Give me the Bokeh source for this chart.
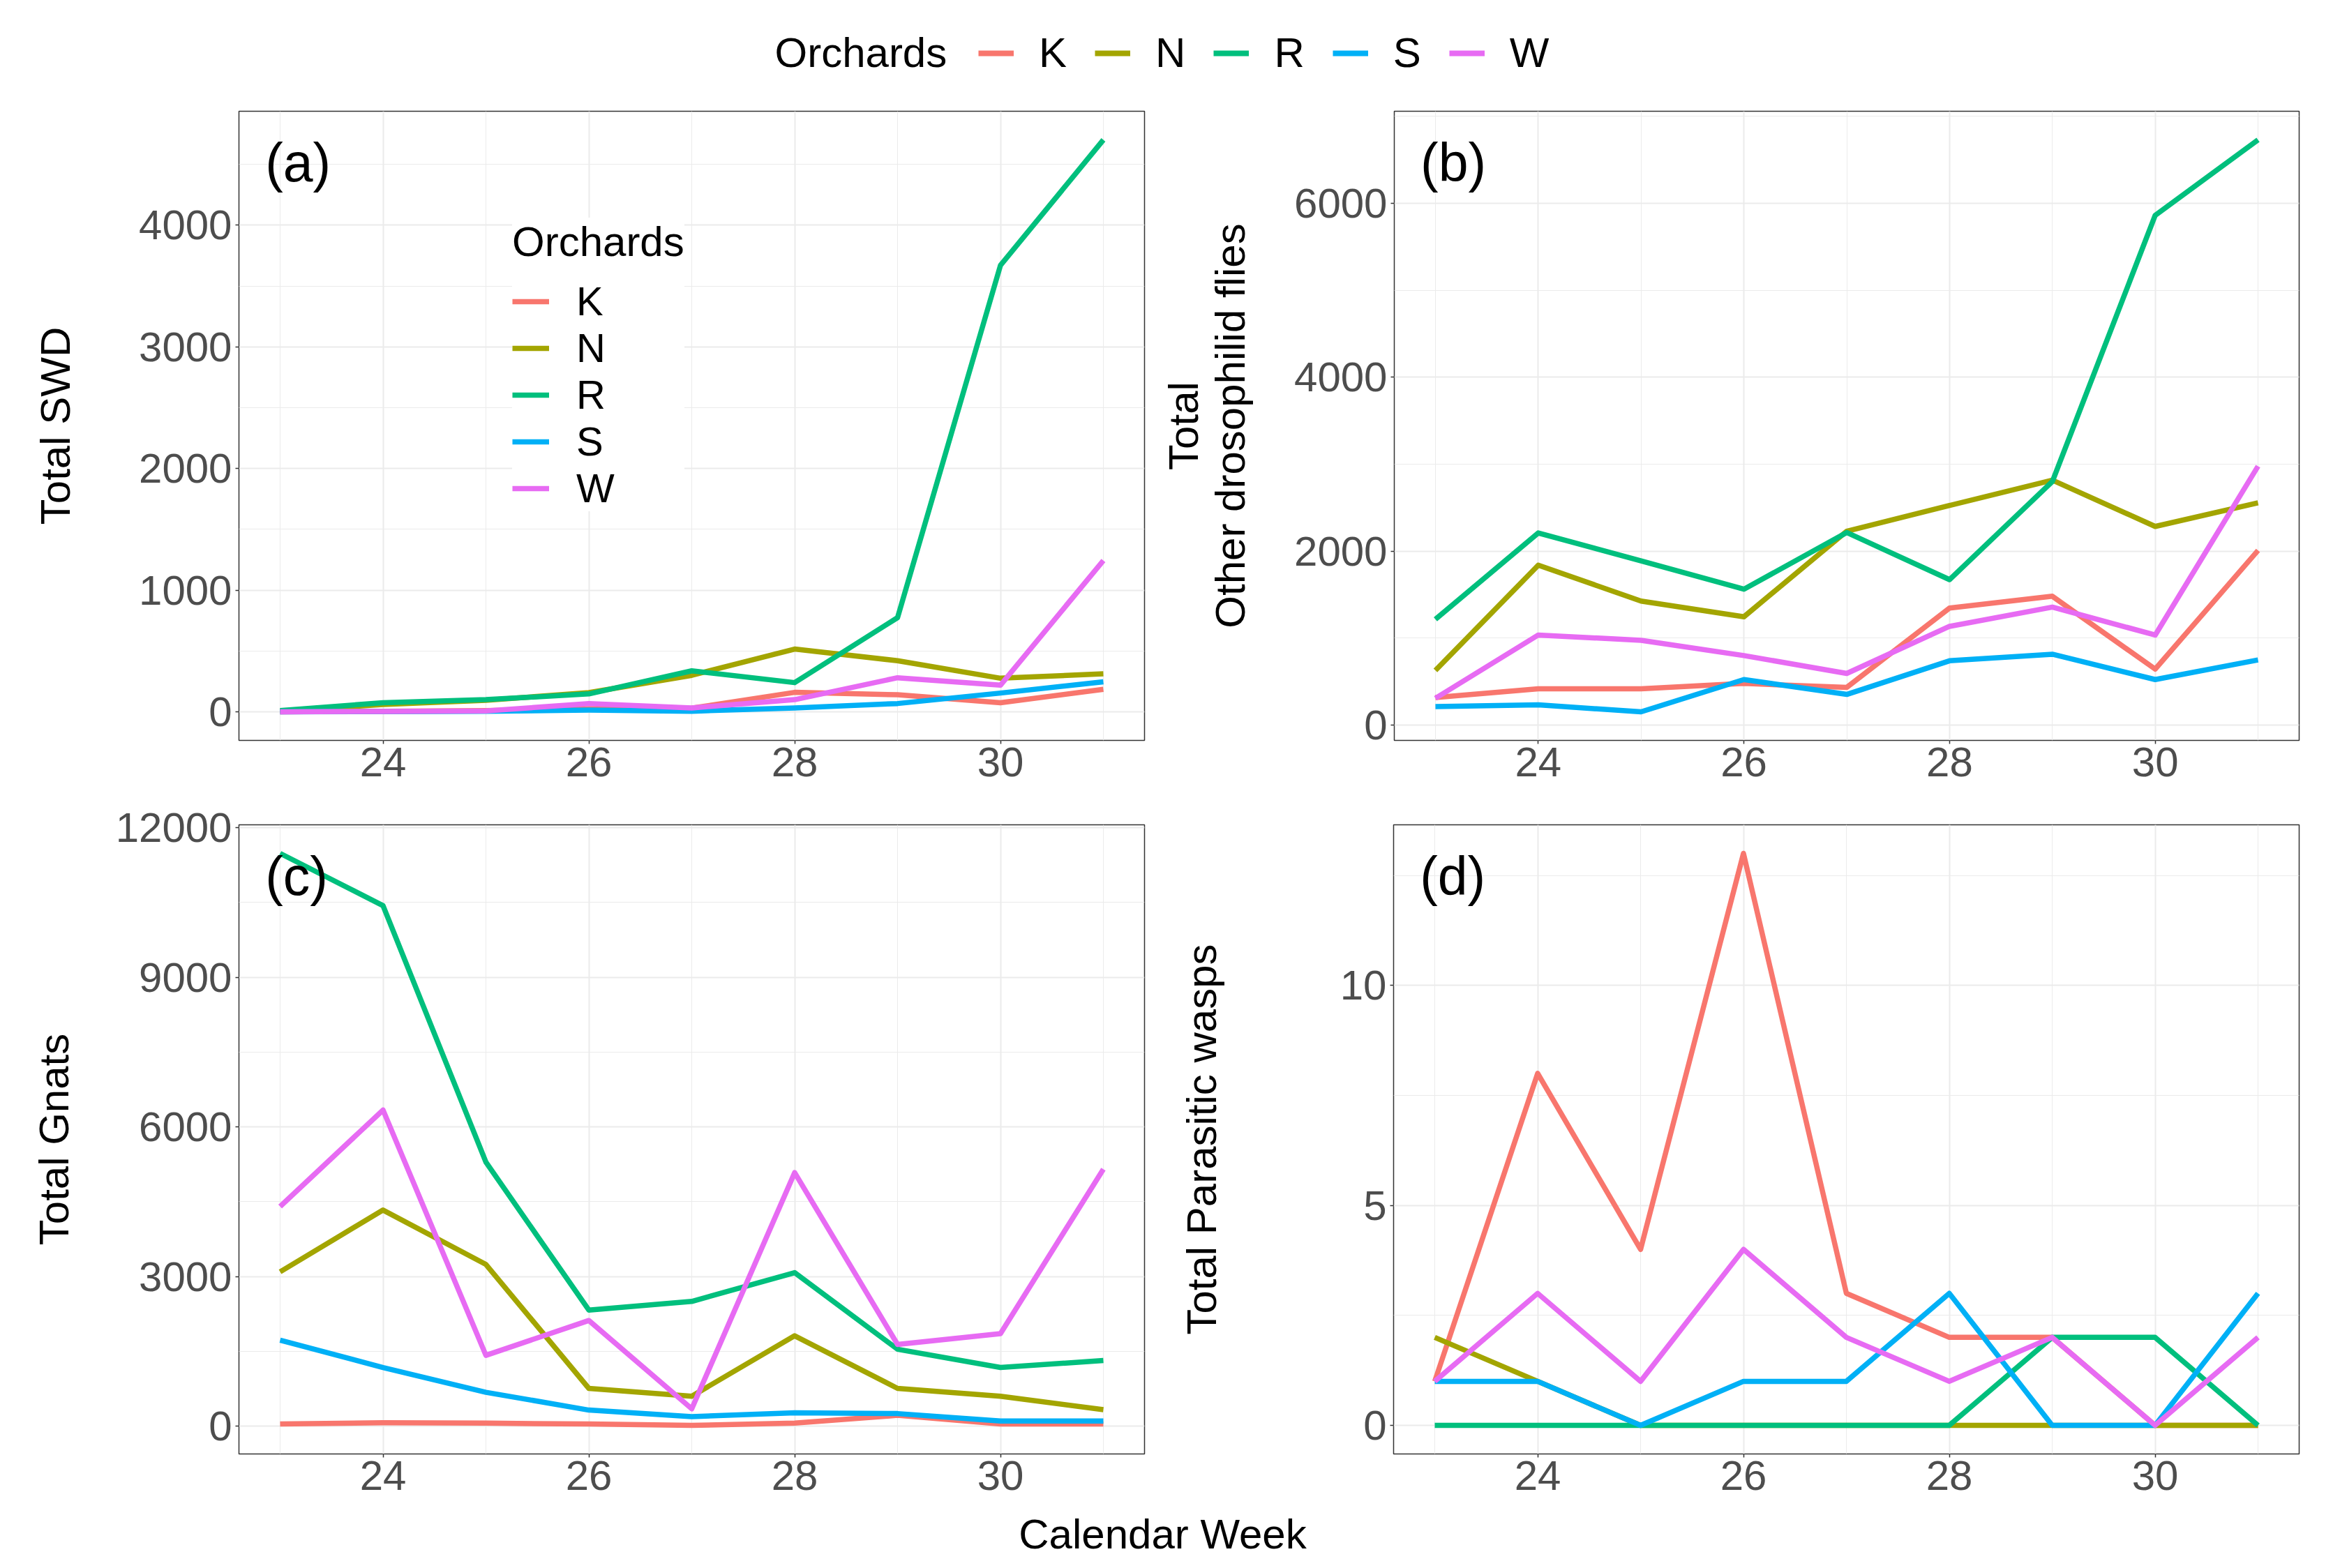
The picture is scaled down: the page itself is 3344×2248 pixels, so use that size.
from bokeh.plotting import figure
from bokeh.models import Range1d, FixedTicker, Legend, LegendItem, Label
from bokeh.layouts import column, row
from bokeh.embed import file_html
from bokeh.resources import INLINE

# ---------------- data ----------------
weeks = [23, 24, 25, 26, 27, 28, 29, 30, 31]
orchards = ["K", "N", "R", "S", "W"]
colors = ["#F8766D", "#A3A500", "#00BF7D", "#00B0F6", "#E76BF3"]

# (a) Total SWD
swd_K = [0, 5, 10, 25, 30, 160, 140, 75, 185]
swd_N = [5, 60, 95, 158, 300, 516, 420, 276, 312]
swd_R = [10, 75, 100, 147, 337, 240, 774, 3670, 4702]
swd_S = [0, 2, 5, 14, 5, 32, 68, 154, 247]
swd_W = [0, 3, 7, 68, 32, 100, 280, 219, 1244]

# (b) Total other drosophilid flies
dros_K = [316, 416, 416, 477, 432, 1345, 1480, 642, 2007]
dros_N = [627, 1837, 1425, 1244, 2228, 2524, 2815, 2283, 2554]
dros_R = [1214, 2208, 1887, 1561, 2213, 1671, 2800, 5861, 6729]
dros_S = [211, 231, 151, 522, 351, 738, 813, 522, 748]
dros_W = [306, 1034, 973, 798, 592, 1134, 1355, 1034, 2976]

# (c) Total gnats
gnat_K = [44, 70, 61, 44, 17, 61, 218, 44, 44]
gnat_N = [3095, 4333, 3243, 758, 602, 1813, 758, 602, 331]
gnat_R = [11482, 10436, 5292, 2328, 2502, 3078, 1543, 1177, 1316]
gnat_S = [1726, 1177, 680, 323, 192, 270, 253, 105, 105]
gnat_W = [4403, 6338, 1421, 2119, 349, 5083, 1639, 1857, 5152]

# (d) Total parasitic wasps
wasp_K = [1, 8, 4, 13, 3, 2, 2, 0, 0]
wasp_N = [2, 1, 0, 0, 0, 0, 0, 0, 0]
wasp_R = [0, 0, 0, 0, 0, 0, 2, 2, 0]
wasp_S = [1, 1, 0, 1, 1, 3, 0, 0, 3]
wasp_W = [1, 3, 1, 4, 2, 1, 2, 0, 2]

# tick positions
x_major = [24, 26, 28, 30]
x_minor = [23, 25, 27, 29, 31]
a_major = [0, 1000, 2000, 3000, 4000]
a_minor = [500, 1500, 2500, 3500, 4500]
b_major = [0, 2000, 4000, 6000]
b_minor = [1000, 3000, 5000, 7000]
c_major = [0, 3000, 6000, 9000, 12000]
c_minor = [1500, 4500, 7500, 10500]
d_major = [0, 5, 10]
d_minor = [2.5, 7.5, 12.5]

FONT = "Liberation Sans"
LW = 7.5
GRID = "#EBEBEB"
NAN = float("nan")


def expand(vals):
    lo, hi = min(vals), max(vals)
    pad = 0.05 * (hi - lo)
    return lo - pad, hi + pad


def make_panel(series, y_major, y_minor, ylabel, standoff, tag, width, height,
               bl, br, bt, bb, legend=False):
    x0, x1 = expand(weeks)
    allv = [v for s in series for v in s]
    y0, y1 = expand(allv)
    p = figure(width=width, height=height, x_range=Range1d(x0, x1), y_range=Range1d(y0, y1),
               toolbar_location=None, output_backend="svg",
               min_border_left=bl, min_border_right=br, min_border_top=bt, min_border_bottom=bb)
    p.background_fill_color = "white"
    p.border_fill_color = "white"
    p.outline_line_color = "#333333"
    p.outline_line_width = 1.5

    p.xaxis.ticker = FixedTicker(ticks=x_major, minor_ticks=x_minor)
    p.yaxis.ticker = FixedTicker(ticks=y_major, minor_ticks=y_minor)
    for ax in (p.xaxis[0], p.yaxis[0]):
        ax.axis_line_color = None
        ax.major_tick_line_color = "#333333"
        ax.major_tick_line_width = 1.5
        ax.major_tick_out = 5
        ax.major_tick_in = 0
        ax.minor_tick_line_color = None
        ax.major_label_text_font = FONT
        ax.major_label_text_font_size = "60px"
        ax.major_label_text_color = "#4D4D4D"
        ax.major_label_standoff = 5
    p.yaxis.axis_label = ylabel
    p.yaxis.axis_label_text_font = FONT
    p.yaxis.axis_label_text_font_size = "60px"
    p.yaxis.axis_label_text_font_style = "normal"
    p.yaxis.axis_label_text_color = "black"
    p.yaxis.axis_label_standoff = standoff
    p.yaxis.axis_label_text_line_height = 1.0

    for g in (p.xgrid[0], p.ygrid[0]):
        g.grid_line_color = GRID
        g.grid_line_width = 2
        g.minor_grid_line_color = GRID
        g.minor_grid_line_width = 1

    rends = []
    for name, col, vals in zip(orchards, colors, series):
        r = p.line(weeks, vals, line_color=col, line_width=LW, line_join="round")
        rends.append(r)

    p.add_layout(Label(x=x0 + 0.029 * (x1 - x0), y=y1 - 0.082 * (y1 - y0), text=tag,
                       text_font=FONT, text_font_size="77px", text_color="black",
                       text_align="left", text_baseline="middle"))

    if legend:
        leg = Legend(items=[LegendItem(label=o, renderers=[r]) for o, r in zip(orchards, rends)],
                     title="Orchards", location=(392, 328), orientation="vertical",
                     padding=8, margin=0, spacing=0, label_standoff=39,
                     glyph_width=53, glyph_height=20,
                     label_text_font=FONT, label_text_font_size="58px", label_text_color="black",
                     title_text_font=FONT, title_text_font_size="60px", title_text_color="black",
                     title_text_font_style="normal", title_standoff=17,
                     background_fill_color="white", background_fill_alpha=1,
                     border_line_color=None)
        p.add_layout(leg)
    return p


WL, WR = 1660, 1675
H1, H2 = 993, 1025

pa = make_panel([swd_K, swd_N, swd_R, swd_S, swd_W], a_major, a_minor, "Total SWD", 83, "(a)",
                WL, H1, 342, 20, 11, 80, legend=True)
pb = make_panel([dros_K, dros_N, dros_R, dros_S, dros_W], b_major, b_minor,
                "Total\nOther drosophilid flies", 55, "(b)", WR, H1, 337, 40, 11, 80)
pc = make_panel([gnat_K, gnat_N, gnat_R, gnat_S, gnat_W], c_major, c_minor, "Total Gnats", 52, "(c)",
                WL, H2, 342, 20, 41, 82)
pd = make_panel([wasp_K, wasp_N, wasp_R, wasp_S, wasp_W], d_major, d_minor,
                "Total Parasitic wasps", 162, "(d)", WR, H2, 337, 40, 41, 82)

# top legend
TW = WL + WR
TH = 148
top = figure(width=TW, height=TH, x_range=Range1d(0, TW), y_range=Range1d(0, TH),
             x_axis_type=None, y_axis_type=None, toolbar_location=None, output_backend="svg",
             min_border=0)
top.grid.visible = False
top.outline_line_color = None
top_rends = [top.line(x=[NAN], y=[NAN], line_color=c, line_width=8) for c in colors]
top_leg = Legend(items=[LegendItem(label=o, renderers=[r]) for o, r in zip(orchards, top_rends)],
                 orientation="horizontal", location=(1402, 38), padding=0, margin=0,
                 spacing=40, label_standoff=36, glyph_width=51, glyph_height=20,
                 label_text_font=FONT, label_text_font_size="60px", label_text_color="black",
                 background_fill_alpha=0, border_line_color=None)
top.add_layout(top_leg)
top.add_layout(Label(x=1110, y=73, text="Orchards", text_font=FONT, text_font_size="60px",
                     text_color="black", text_align="left", text_baseline="middle"))

# bottom shared x-axis title
BH = 70
bottom = figure(width=TW, height=BH, x_range=Range1d(0, TW), y_range=Range1d(0, BH),
                x_axis_type=None, y_axis_type=None, toolbar_location=None, output_backend="svg",
                min_border=0)
bottom.grid.visible = False
bottom.outline_line_color = None
bottom.add_layout(Label(x=1666, y=37, text="Calendar Week", text_font=FONT, text_font_size="60px",
                        text_color="black", text_align="center", text_baseline="middle"))

layout = column(top, row(pa, pb), row(pc, pd), bottom)
open("out.html", "w").write(file_html(layout, INLINE))
